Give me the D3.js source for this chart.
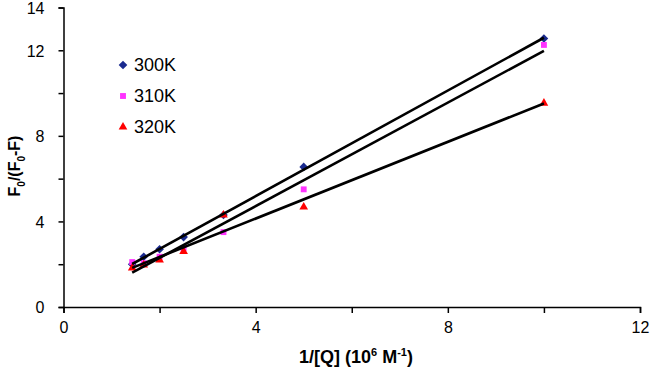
<!DOCTYPE html>
<html><head><meta charset="utf-8">
<script src="https://cdn.jsdelivr.net/npm/d3@7"></script>
<style>body{margin:0;background:#fff}svg{display:block}text{font-family:"Liberation Sans",Arial,sans-serif}</style>
</head><body>
<svg id="c" width="650" height="367"></svg>
<script>
const xValues = [1.43, 1.67, 2.0, 2.5, 3.33, 5.0, 10.0];
const series300 = [2.0, 2.35, 2.7, 3.27, 4.3, 6.55, 12.55];
const series310 = [2.1, 2.05, 2.35, 2.75, 3.5, 5.5, 12.25];
const series320 = [1.82, 1.96, 2.2, 2.6, 4.3, 4.67, 9.53];
const seriesNames = ["300K", "310K", "320K"];
const xTicks = [0, 2, 4, 6, 8, 10, 12];
const xTickLabels = [0, 4, 8, 12];
const yTicks = [0, 2, 4, 6, 8, 10, 12, 14];
const yTickLabels = [0, 4, 8, 12, 14];

const svg = d3.select("#c");
const x = d3.scaleLinear().domain([0, 12]).range([63.5, 640]);
const y = d3.scaleLinear().domain([0, 14]).range([307, 7.5]);

const series = [
  {name: seriesNames[0], vals: series300, color: "#1a2a8f", sym: d3.symbolDiamond2, size: 48},
  {name: seriesNames[1], vals: series310, color: "#ff33ff", sym: d3.symbolSquare2, size: 44},
  {name: seriesNames[2], vals: series320, color: "#ff0000", sym: d3.symbolTriangle2, size: 54}
];

// regression lines
function fit(xs, ys) {
  const mx = d3.mean(xs), my = d3.mean(ys);
  let sxy = 0, sxx = 0;
  xs.forEach((v, i) => { sxy += (v - mx) * (ys[i] - my); sxx += (v - mx) * (v - mx); });
  const b = sxy / sxx; return {b, a: my - b * mx};
}

// axes
const xAxis = d3.axisBottom(x).tickValues(xTicks).tickSize(6)
  .tickFormat(d => xTickLabels.includes(d) ? d : "");
const yAxis = d3.axisLeft(y).tickValues(yTicks).tickSize(5)
  .tickFormat(d => yTickLabels.includes(d) ? d : "");

const gx = svg.append("g").attr("transform", `translate(0,${y(0)})`).call(xAxis);
const gy = svg.append("g").attr("transform", `translate(${x(0)},0)`).call(yAxis);
[gx, gy].forEach(g => {
  g.select(".domain").attr("stroke", "#000").attr("stroke-width", 1.5);
  g.selectAll(".tick line").attr("stroke", "#000").attr("stroke-width", 1.5);
  g.selectAll(".tick text").attr("fill", "#000").style("font-size", "16px");
});
gx.selectAll(".tick text").attr("dy", "1.05em");
gy.selectAll(".tick text").attr("x", -19).attr("dy", "0.36em");

// markers
series.forEach(s => {
  svg.append("g").selectAll("path").data(s.vals).join("path")
    .attr("d", d3.symbol().type(s.sym).size(s.size))
    .attr("transform", (d, i) => `translate(${x(xValues[i])},${y(d)})`)
    .attr("fill", s.color);
});

// lines
const xmin = d3.min(xValues), xmax = d3.max(xValues);
series.forEach(s => {
  const f = fit(xValues, s.vals);
  svg.append("line")
    .attr("x1", x(xmin)).attr("y1", y(f.a + f.b * xmin))
    .attr("x2", x(xmax)).attr("y2", y(f.a + f.b * xmax))
    .attr("stroke", "#000").attr("stroke-width", 2.6);
});

// legend
series.forEach((s, i) => {
  const ly = 65 + i * 31;
  svg.append("path").attr("d", d3.symbol().type(s.sym).size(s.size))
    .attr("transform", `translate(123,${ly})`).attr("fill", s.color);
  svg.append("text").attr("x", 134).attr("y", ly).attr("dy", "0.36em")
    .style("font-size", "18px").text(s.name);
});

// axis titles
svg.append("text").attr("x", 356).attr("y", 363).attr("text-anchor", "middle")
  .style("font-size", "18px").style("font-weight", "bold")
  .html('1/[Q] (10<tspan dy="-7" style="font-size:11px">6</tspan><tspan dy="7"> M</tspan><tspan dy="-7" style="font-size:11px">-1</tspan><tspan dy="7">)</tspan>');
svg.append("text").attr("transform", "translate(20,166) rotate(-90)").attr("text-anchor", "middle")
  .style("font-size", "16px").style("font-weight", "bold")
  .html('F<tspan dy="5" style="font-size:10px">0</tspan><tspan dy="-5">/(F</tspan><tspan dy="5" style="font-size:10px">0</tspan><tspan dy="-5">-F)</tspan>');
</script>
</body></html>
